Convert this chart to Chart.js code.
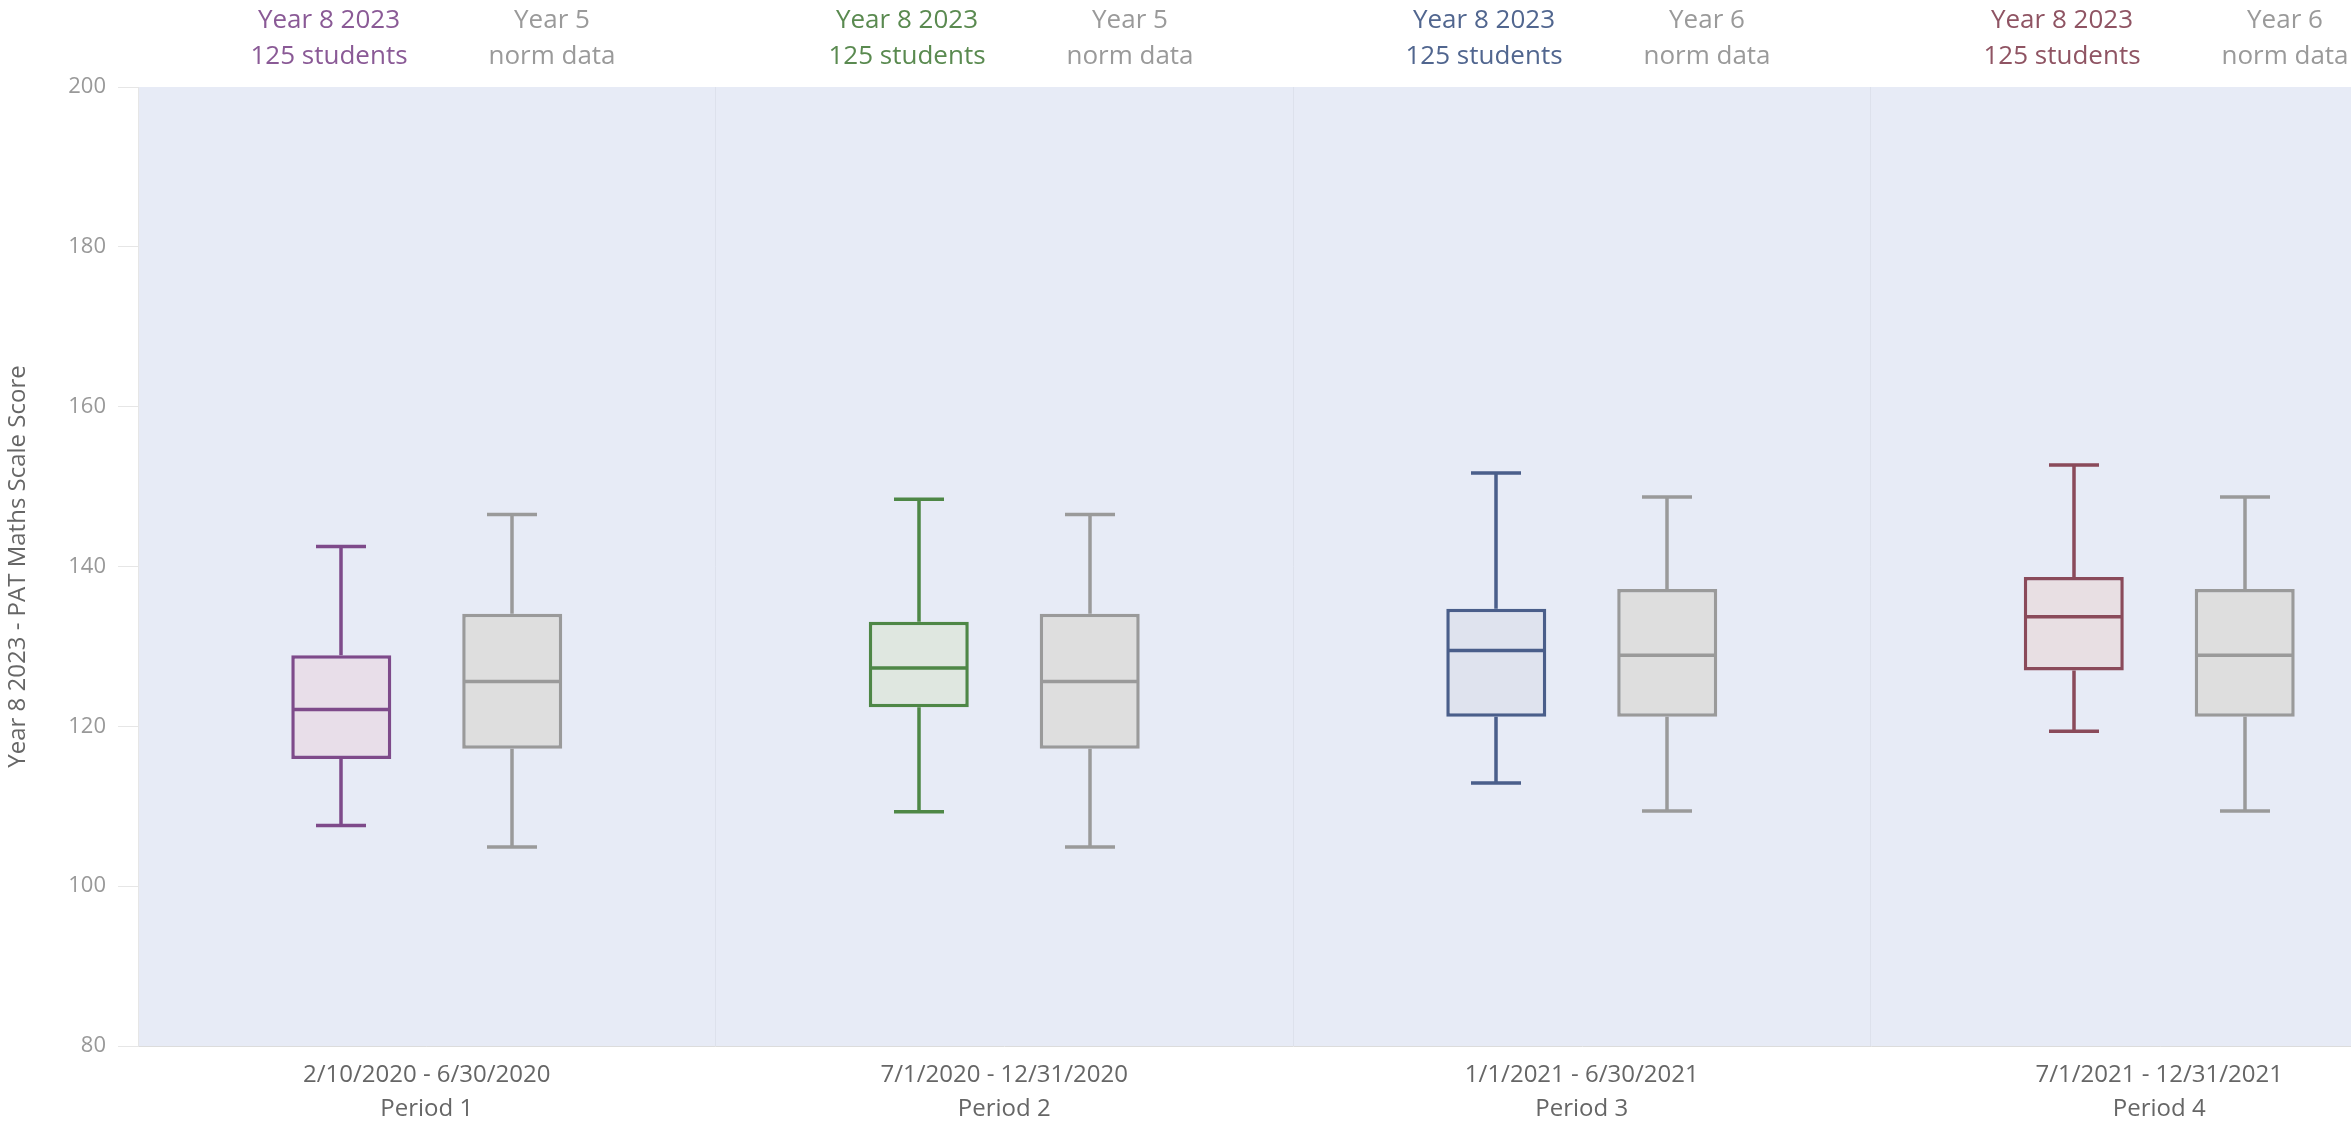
<!DOCTYPE html>
<html>
<head>
<meta charset="utf-8">
<script src="https://cdn.jsdelivr.net/npm/chart.js@4.4.1/dist/chart.umd.min.js"></script>
<style>
  html, body { margin: 0; padding: 0; background: #fff; overflow: hidden; }
  #wrap { position: relative; width: 2448px; height: 1126px; }
</style>
</head>
<body>
<div id="wrap"><canvas id="chart"></canvas></div>
<script>
// categories
const periodDates = ['2/10/2020 - 6/30/2020', '7/1/2020 - 12/31/2020', '1/1/2021 - 6/30/2021', '7/1/2021 - 12/31/2021'];
const periodNames = ['Period 1', 'Period 2', 'Period 3', 'Period 4'];

// Year 8 2023 cohort (125 students)
const studentMin    = [107.6, 109.3, 112.9, 119.4];
const studentQ1     = [115.9, 122.4, 121.2, 127.0];
const studentMedian = [122.1, 127.3, 129.5, 133.7];
const studentQ3     = [128.9, 133.1, 134.7, 138.7];
const studentMax    = [142.5, 148.4, 151.7, 152.7];

// norm data
const normYears  = ['Year 5', 'Year 5', 'Year 6', 'Year 6'];
const normMin    = [104.9, 104.9, 109.4, 109.4];
const normQ1     = [117.2, 117.2, 121.2, 121.2];
const normMedian = [125.6, 125.6, 128.9, 128.9];
const normQ3     = [134.1, 134.1, 137.2, 137.2];
const normMax    = [146.5, 146.5, 148.7, 148.7];

const yTicks = [80, 100, 120, 140, 160, 180, 200];

/* =========================
   STYLE
========================= */
const studentStroke = ['#7e4a8a', '#4e8746', '#4a5e8a', '#8a4a5a'];
const studentFill   = ['#e8dee9', '#dfe7e0', '#dfe3ee', '#e8dfe3'];
const studentText   = ['#8a5a96', '#5a8a50', '#51668f', '#8f5463'];
const normStroke = '#9a9a9a';
const normFill = '#dedede';
const fontFam = '"Open Sans", "Noto Sans", sans-serif';
const lineW = 3.5;

const stats = [
  { min: studentMin, q1: studentQ1, med: studentMedian, q3: studentQ3, max: studentMax },
  { min: normMin, q1: normQ1, med: normMedian, q3: normQ3, max: normMax },
];

// plot background
const plotBg = {
  id: 'plotBg',
  beforeDraw(chart) {
    const { ctx, chartArea: a } = chart;
    ctx.save();
    ctx.fillStyle = '#e7ebf6';
    ctx.fillRect(a.left, a.top, a.right - a.left, a.bottom - a.top);
    ctx.restore();
  }
};

// whiskers + medians + top labels
const boxParts = {
  id: 'boxParts',
  afterDatasetsDraw(chart) {
    const { ctx } = chart;
    const y = chart.scales.y;
    ctx.save();
    stats.forEach((s, di) => {
      const meta = chart.getDatasetMeta(di);
      meta.data.forEach((bar, i) => {
        const color = di === 0 ? studentStroke[i] : normStroke;
        const cx = Math.round(bar.x);
        const half = bar.width / 2;
        const cap = bar.width / 4;
        ctx.strokeStyle = color;
        ctx.lineWidth = lineW;
        ctx.beginPath();
        // upper whisker
        ctx.moveTo(cx, y.getPixelForValue(s.q3[i]));
        ctx.lineTo(cx, y.getPixelForValue(s.max[i]));
        ctx.moveTo(cx - cap, y.getPixelForValue(s.max[i]));
        ctx.lineTo(cx + cap, y.getPixelForValue(s.max[i]));
        // lower whisker
        ctx.moveTo(cx, y.getPixelForValue(s.q1[i]));
        ctx.lineTo(cx, y.getPixelForValue(s.min[i]));
        ctx.moveTo(cx - cap, y.getPixelForValue(s.min[i]));
        ctx.lineTo(cx + cap, y.getPixelForValue(s.min[i]));
        // median
        ctx.moveTo(cx - half + 1.5, y.getPixelForValue(s.med[i]));
        ctx.lineTo(cx + half - 1.5, y.getPixelForValue(s.med[i]));
        ctx.stroke();

        // labels above the plot
        ctx.font = '26px ' + fontFam;
        ctx.textAlign = 'center';
        ctx.textBaseline = 'middle';
        if (di === 0) {
          ctx.fillStyle = studentText[i];
          ctx.fillText('Year 8 2023', cx - 12, 21);
          ctx.fillText('125 students', cx - 12, 57);
        } else {
          ctx.fillStyle = '#9a9a9a';
          ctx.fillText(normYears[i], cx + 40, 21);
          ctx.fillText('norm data', cx + 40, 57);
        }
      });
    });
    ctx.restore();
  }
};

new Chart(document.getElementById('chart'), {
  type: 'bar',
  data: {
    labels: periodDates.map((d, i) => [d, periodNames[i]]),
    datasets: [
      {
        label: 'Year 8 2023',
        data: studentQ1.map((v, i) => [v, studentQ3[i]]),
        backgroundColor: studentFill,
        borderColor: studentStroke,
        borderWidth: lineW,
        borderSkipped: false,
      },
      {
        label: 'norm data',
        data: normQ1.map((v, i) => [v, normQ3[i]]),
        backgroundColor: normFill,
        borderColor: normStroke,
        borderWidth: lineW,
        borderSkipped: false,
      }
    ]
  },
  options: {
    responsive: true,
    maintainAspectRatio: false,
    devicePixelRatio: 1,
    animation: false,
    categoryPercentage: 0.592,
    barPercentage: 0.585,
    layout: { padding: { top: 87, left: 0, right: 0, bottom: 0 } },
    plugins: { legend: { display: false }, tooltip: { enabled: false } },
    scales: {
      x: {
        afterFit(scale) { scale.height = 80; },
        grid: { color: '#dde1ec', drawTicks: false, offset: true },
        border: { color: '#dcdcdc', width: 1 },
        ticks: {
          color: '#666',
          padding: 13,
          font: { family: fontFam, size: 24, lineHeight: 1.38 },
        },
      },
      y: {
        min: 80,
        max: 200,
        afterFit(scale) { scale.width = 138; },
        afterBuildTicks(scale) { scale.ticks = yTicks.map(v => ({ value: v })); },
        grid: { drawOnChartArea: false, tickLength: 20, tickColor: '#e6e6e6' },
        border: { color: '#e6e6e6', width: 1 },
        ticks: {
          color: '#999',
          padding: 12,
          font: { family: fontFam, size: 22 },
        },
        title: {
          display: true,
          text: 'Year 8 2023 - PAT Maths Scale Score',
          color: '#666',
          padding: 4,
          font: { family: fontFam, size: 24 },
        },
      },
    },
  },
  plugins: [plotBg, boxParts],
});
</script>
</body>
</html>
